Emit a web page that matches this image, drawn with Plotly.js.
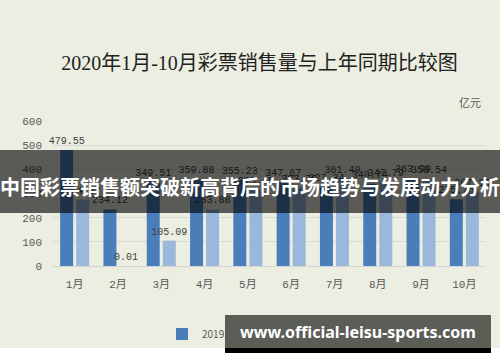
<!DOCTYPE html>
<html>
<head>
<meta charset="utf-8">
<script src="https://cdn.plot.ly/plotly-3.0.1.min.js"></script>
<style>
  html, body { margin: 0; padding: 0; background: #ffffff; }
  #chart { width: 500px; height: 362px; }
</style>
</head>
<body>
<div id="chart"></div>
<script>
// ---- data ----
var months = ['1月', '2月', '3月', '4月', '5月', '6月', '7月', '8月', '9月', '10月'];
var sales2019 = [479.55, 234.12, 349.51, 359.88, 355.23, 347.67, 327.34, 340.74, 363.99, 275.75];
var sales2020 = [274.37, 0.01, 105.09, 233.88, 313.45, 323.79, 361.49, 347.79, 358.54, 307.15];
var seriesNames = ['2019年销量', '2020年销量'];
var yTicks = [0, 100, 200, 300, 400, 500, 600];

// ---- layout helpers (pixel -> paper) ----
var W = 500, H = 362;
var M = { l: 53, r: 14, t: 121, b: 96 };
var PW = W - M.l - M.r, PH = H - M.t - M.b;
function px(x) { return (x - M.l) / PW; }
function py(y) { return (H - M.b - y) / PH; }

var BG = '#eceee1';
var monoFont = '"Liberation Mono", "Noto Sans CJK SC", monospace';

var traces = [
  {
    type: 'bar', name: seriesNames[0], x: months, y: sales2019,
    marker: { color: '#4a7ebb' },
    texttemplate: '%{y:.2f}', textposition: 'outside', textangle: 0,
    constraintext: 'none',
    textfont: { family: monoFont, size: 10, color: '#404040' },
    cliponaxis: false, hoverinfo: 'none'
  },
  {
    type: 'bar', name: seriesNames[1], x: months, y: sales2020,
    marker: { color: '#9bb7dc' },
    texttemplate: '%{y:.2f}', textposition: 'outside', textangle: 0,
    constraintext: 'none',
    textfont: { family: monoFont, size: 10, color: '#404040' },
    cliponaxis: false, hoverinfo: 'none'
  }
];

var layout = {
  width: W, height: H,
  margin: M,
  paper_bgcolor: BG, plot_bgcolor: BG,
  barmode: 'group', bargap: 0.26, bargroupgap: 0.19,
  title: {
    text: '2020年1月-10月彩票销售量与上年同期比较图',
    font: { family: '"Liberation Serif", "Noto Sans CJK SC", serif', size: 20, color: '#222222' },
    x: 259.5 / W, xanchor: 'center', y: 1 - 63 / H, yanchor: 'middle'
  },
  xaxis: {
    type: 'category', showgrid: false, zeroline: false,
    showline: true, linecolor: '#d4d4d4', linewidth: 1,
    ticks: '', ticklabelstandoff: 8,
    tickfont: { family: monoFont, size: 11, color: '#595959' }
  },
  yaxis: {
    range: [0, 600], tickvals: yTicks, showgrid: true, gridcolor: '#d9d9d9', gridwidth: 1,
    zeroline: false, showline: false, ticks: '', ticklabelstandoff: 10,
    tickfont: { family: monoFont, size: 11, color: '#595959' }
  },
  showlegend: true,
  legend: {
    orientation: 'h', x: px(162), xanchor: 'left', y: py(334), yanchor: 'middle',
    font: { family: '"Noto Sans CJK SC", sans-serif', size: 10, color: '#595959' },
    bgcolor: 'rgba(0,0,0,0)', itemwidth: 30
  },
  shapes: [
    // semi-transparent banner across chart
    { type: 'rect', xref: 'paper', yref: 'paper', layer: 'above',
      x0: px(0), x1: px(500), y0: py(213), y1: py(150),
      fillcolor: 'rgba(0,0,0,0.62)', line: { width: 0 } },
    // white strip at the very bottom
    { type: 'rect', xref: 'paper', yref: 'paper', layer: 'above',
      x0: px(0), x1: px(500), y0: py(362), y1: py(348),
      fillcolor: '#ffffff', line: { width: 0 } },
    // black strip under watermark box
    { type: 'rect', xref: 'paper', yref: 'paper', layer: 'above',
      x0: px(225), x1: px(491), y0: py(353), y1: py(348),
      fillcolor: '#000000', line: { width: 0 } }
  ],
  annotations: [
    { text: '亿元', xref: 'paper', yref: 'paper', x: px(470), y: py(102),
      showarrow: false, xanchor: 'center', yanchor: 'middle',
      font: { family: '"Noto Sans CJK SC", sans-serif', size: 11, color: '#595959' } },
    { text: '<b>中国彩票销售额突破新高背后的市场趋势与发展动力分析</b>',
      xref: 'paper', yref: 'paper', x: px(250), y: py(186),
      showarrow: false, xanchor: 'center', yanchor: 'middle',
      font: { family: '"Noto Sans CJK SC", sans-serif', size: 20, color: '#ffffff' } },
    { text: '<b>www.official-leisu-sports.com</b>',
      xref: 'paper', yref: 'paper', x: px(358), y: py(331.5),
      showarrow: false, xanchor: 'center', yanchor: 'middle',
      width: 266, height: 33, borderpad: 0, borderwidth: 0,
      bgcolor: '#5b5d57', align: 'center', valign: 'middle',
      font: { family: '"Noto Sans", "DejaVu Sans", sans-serif', size: 16, color: '#ffffff' } }
  ]
};

Plotly.newPlot('chart', traces, layout, { staticPlot: true, displayModeBar: false });
</script>
</body>
</html>
